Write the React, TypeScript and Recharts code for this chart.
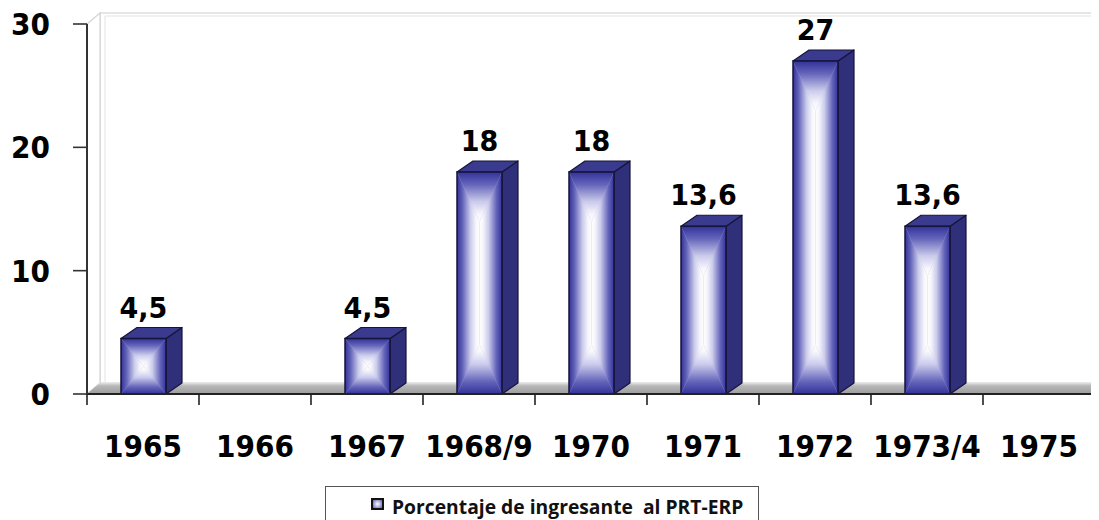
import React from 'react';
import { BarChart, Bar, XAxis, YAxis, LabelList, Legend } from 'recharts';

const categories = ['1965', '1966', '1967', '1968/9', '1970', '1971', '1972', '1973/4', '1975'];
const values: (number | null)[] = [4.5, null, 4.5, 18, 18, 13.6, 27, 13.6, null];
const yTicks = [0, 10, 20, 30];
const seriesName = 'Porcentaje de ingresante  al PRT-ERP';

const data = categories.map((c, i) => ({ year: c, value: values[i] }));

const CHART_W = 1091;
const CHART_H = 512;
const MARGIN = { top: 16, right: 4, left: 0, bottom: 56 };
const Y_AXIS_W = 79;
const X_AXIS_H = 70;
const PLOT_L = MARGIN.left + Y_AXIS_W;
const PLOT_T = MARGIN.top;
const PLOT_R = CHART_W - MARGIN.right;
const PLOT_B = CHART_H - MARGIN.bottom - X_AXIS_H;
const BAND = (PLOT_R - PLOT_L) / categories.length;
const WALL_DX = 13;
const WALL_DY = 11;
const BAR_DX = 16;
const BAR_DY = 11;
const FONT = '"DejaVu Sans", Verdana, sans-serif';

const DARK = '#32329a';

const Stops = () => (
  <>
    <stop offset="0" stopColor={DARK} />
    <stop offset="0.25" stopColor="#6464ba" />
    <stop offset="0.6" stopColor="#cbcbec" />
    <stop offset="0.85" stopColor="#f6f6fc" />
    <stop offset="1" stopColor="#ffffff" />
  </>
);

const Walls = () => (
  <g>
    <defs>
      <linearGradient id="gTop" x1="0" y1="0" x2="0" y2="1">
        <Stops />
      </linearGradient>
      <linearGradient id="gBottom" x1="0" y1="1" x2="0" y2="0">
        <Stops />
      </linearGradient>
      <linearGradient id="gLeft" x1="0" y1="0" x2="1" y2="0">
        <Stops />
      </linearGradient>
      <linearGradient id="gRight" x1="1" y1="0" x2="0" y2="0">
        <Stops />
      </linearGradient>
      <linearGradient id="gFloor" x1="0" y1="0" x2="0" y2="1">
        <stop offset="0" stopColor="#e2e2e2" />
        <stop offset="0.25" stopColor="#b8b8b8" />
        <stop offset="1" stopColor="#9c9c9c" />
      </linearGradient>
    </defs>
    <rect
      x={PLOT_L + WALL_DX}
      y={PLOT_T - WALL_DY}
      width={PLOT_R - PLOT_L + 40}
      height={PLOT_B - PLOT_T}
      fill="#ffffff"
      stroke="#dedede"
      strokeWidth={1.5}
    />
    <line
      x1={PLOT_L + WALL_DX + 5}
      y1={PLOT_T - WALL_DY + 3}
      x2={PLOT_R + 40}
      y2={PLOT_T - WALL_DY + 3}
      stroke="#ececec"
      strokeWidth={1.5}
    />
    <line
      x1={PLOT_L + WALL_DX + 5}
      y1={PLOT_T - WALL_DY + 3}
      x2={PLOT_L + WALL_DX + 5}
      y2={PLOT_B - WALL_DY}
      stroke="#ececec"
      strokeWidth={1.5}
    />
    <polygon
      points={`${PLOT_L},${PLOT_T} ${PLOT_L + WALL_DX},${PLOT_T - WALL_DY} ${PLOT_L + WALL_DX},${PLOT_B - WALL_DY} ${PLOT_L},${PLOT_B}`}
      fill="#ffffff"
      stroke="#d4d4d4"
      strokeWidth={1.2}
    />
    <polygon
      points={`${PLOT_L},${PLOT_B} ${PLOT_L + WALL_DX},${PLOT_B - WALL_DY} ${PLOT_R + WALL_DX},${PLOT_B - WALL_DY} ${PLOT_R},${PLOT_B}`}
      fill="url(#gFloor)"
      stroke="none"
    />
  </g>
);

const Bar3D = (props: any) => {
  const { x, y, width: w, height: h } = props;
  if (h == null || !(h > 0) || isNaN(y)) return null;
  const cx = x + w / 2;
  const d = Math.min(h / 2, w * 1.1);
  const edge = '#15153a';
  return (
    <g>
      <polygon
        points={`${x + w},${y} ${x + w + BAR_DX},${y - BAR_DY} ${x + w + BAR_DX},${y + h - BAR_DY} ${x + w},${y + h}`}
        fill="#2f2f7a"
        stroke={edge}
        strokeWidth={1.2}
        strokeLinejoin="round"
      />
      <polygon
        points={`${x},${y} ${x + BAR_DX},${y - BAR_DY} ${x + w + BAR_DX},${y - BAR_DY} ${x + w},${y}`}
        fill="#3a3a8e"
        stroke={edge}
        strokeWidth={1.2}
        strokeLinejoin="round"
      />
      <rect x={x} y={y} width={w} height={h} fill="#b0b0e0" />
      <polygon points={`${x},${y} ${x + w},${y} ${cx},${y + d}`} fill="url(#gTop)" />
      <polygon points={`${x},${y + h} ${x + w},${y + h} ${cx},${y + h - d}`} fill="url(#gBottom)" />
      <polygon points={`${x},${y} ${cx},${y + d} ${cx},${y + h - d} ${x},${y + h}`} fill="url(#gLeft)" />
      <polygon points={`${x + w},${y} ${cx},${y + d} ${cx},${y + h - d} ${x + w},${y + h}`} fill="url(#gRight)" />
      <rect x={x} y={y} width={w} height={h} fill="none" stroke={edge} strokeWidth={1.5} />
    </g>
  );
};

const ValueLabel = (props: any) => {
  const { x, y, width, value } = props;
  if (value == null) return null;
  const tx = x + width / 2;
  const ty = y - BAR_DY - 10;
  return (
    <text
      transform={`translate(${tx},${ty}) scale(1,1.08)`}
      textAnchor="middle"
      fontFamily={FONT}
      fontWeight="bold"
      fontSize={27}
      fill="#000"
    >
      {String(value).replace('.', ',')}
    </text>
  );
};

const XTick = (props: any) => {
  const { payload, index, visibleTicksCount } = props;
  const cx = payload.coordinate;
  const left = cx - BAND / 2;
  const right = cx + BAND / 2;
  return (
    <g>
      <line x1={left} y1={PLOT_B} x2={left} y2={PLOT_B + 11} stroke="#222" strokeWidth={1.6} />
      {index === visibleTicksCount - 1 && (
        <line x1={right} y1={PLOT_B} x2={right} y2={PLOT_B + 11} stroke="#222" strokeWidth={1.6} />
      )}
      <text
        transform={`translate(${cx},${PLOT_B + 63}) scale(1,1.08)`}
        textAnchor="middle"
        fontFamily={FONT}
        fontWeight="bold"
        fontSize={28}
        fill="#000"
      >
        {payload.value}
      </text>
    </g>
  );
};

const YTick = (props: any) => {
  const { x, y, payload } = props;
  return (
    <text
      transform={`translate(${x},${y + 11}) scale(1,1.08)`}
      textAnchor="end"
      fontFamily={FONT}
      fontWeight="bold"
      fontSize={28}
      fill="#000"
    >
      {payload.value}
    </text>
  );
};

const LegendBox = () => (
  <div
    style={{
      boxSizing: 'border-box',
      width: 434,
      height: 40,
      border: '1.5px solid #555',
      background: '#fff',
      position: 'relative',
    }}
  >
    <span
      style={{
        position: 'absolute',
        left: 45,
        top: 11,
        width: 13,
        height: 12,
        boxSizing: 'border-box',
        border: '2px solid #111',
        background: 'radial-gradient(circle, #ffffff 0%, #b0b0e0 50%, #5a5aa8 100%)',
      }}
    />
    <span
      style={{
        position: 'absolute',
        left: 66,
        top: 10,
        whiteSpace: 'pre',
        fontFamily: '"Open Sans", sans-serif',
        fontWeight: 700,
        fontSize: 19.3,
        lineHeight: '20px',
        color: '#111',
      }}
    >
      {seriesName}
    </span>
  </div>
);

export default function App() {
  return (
    <BarChart width={CHART_W} height={CHART_H} data={data} margin={MARGIN}>
      <Walls />
      <XAxis
        dataKey="year"
        height={X_AXIS_H}
        tickLine={false}
        axisLine={{ stroke: '#222', strokeWidth: 2 }}
        tick={<XTick />}
        interval={0}
      />
      <YAxis
        width={Y_AXIS_W}
        domain={[0, 30]}
        ticks={yTicks}
        tickSize={14}
        tickMargin={23}
        axisLine={{ stroke: '#333', strokeWidth: 2 }}
        tickLine={{ stroke: '#333', strokeWidth: 1.6 }}
        tick={<YTick />}
      />
      <Legend
        layout="vertical"
        align="center"
        verticalAlign="middle"
        wrapperStyle={{ top: 478, left: 317, width: 434, height: 40 }}
        content={() => <LegendBox />}
      />
      <Bar dataKey="value" name={seriesName} barSize={45} shape={<Bar3D />} isAnimationActive={false}>
        <LabelList dataKey="value" content={<ValueLabel />} />
      </Bar>
    </BarChart>
  );
}
